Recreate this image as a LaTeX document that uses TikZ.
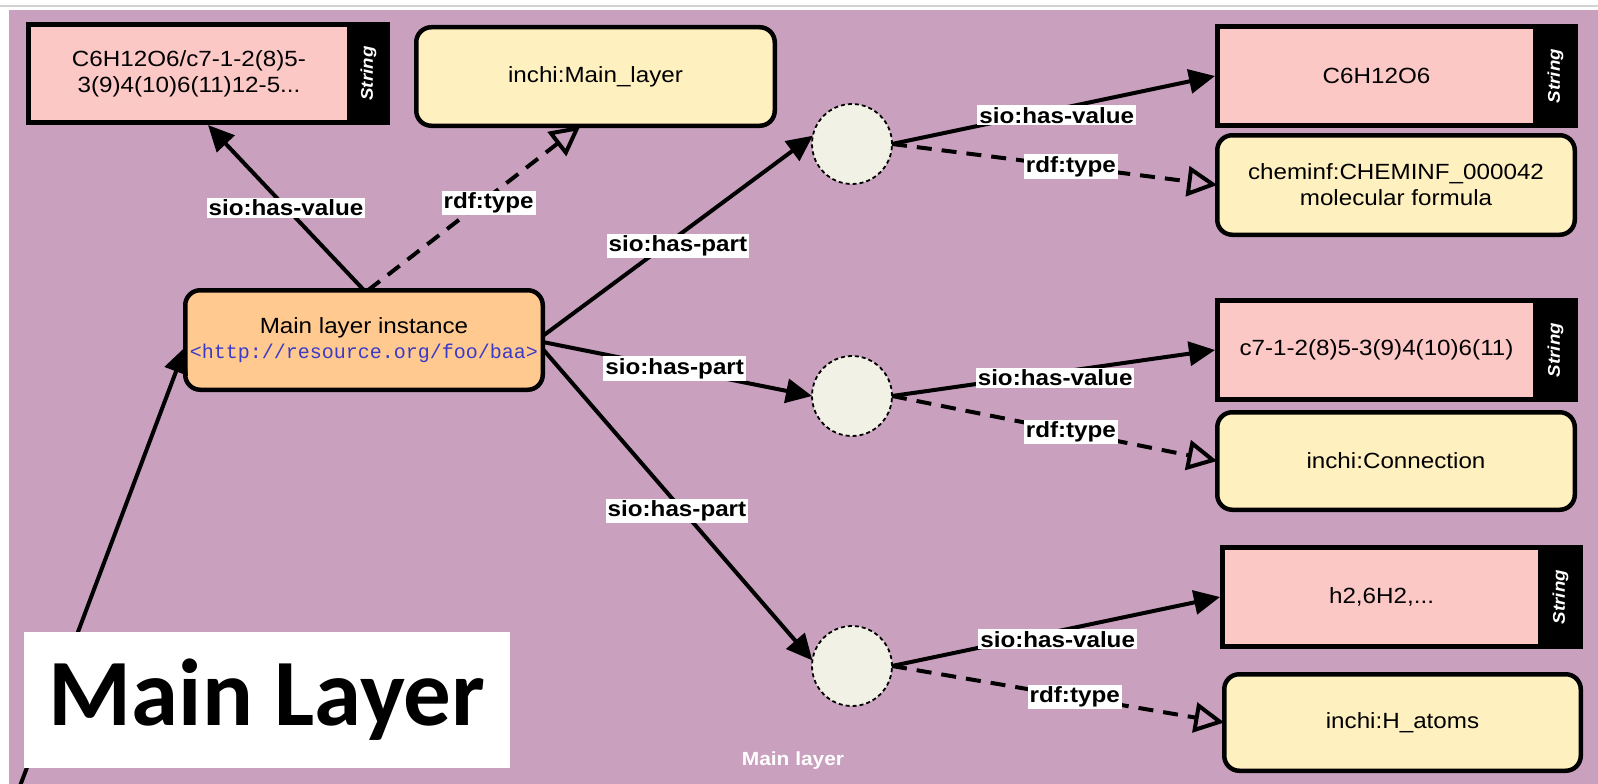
\documentclass[tikz,border=0pt]{standalone}
\usepackage{fontspec}
\setmainfont{Liberation Sans}[FakeStretch=1.1]
\newfontfamily\urlfont{Liberation Mono}
\newfontfamily\bigfont{Carlito}
\usetikzlibrary{arrows.meta,calc}
\definecolor{bgpurple}{HTML}{C9A1BF}
\definecolor{strpink}{HTML}{FCC8C6}
\definecolor{typecream}{HTML}{FFF0C0}
\definecolor{instorange}{HTML}{FFC98F}
\definecolor{blankfill}{HTML}{F2F1E6}
\definecolor{urlblue}{HTML}{3A3AC8}
\definecolor{topline}{HTML}{D2D2D2}
\begin{document}
\begin{tikzpicture}[x=1pt,y=-1pt,
  txt/.style={font=\fontsize{22}{26}\selectfont, align=center, text=black},
  typebox/.style={txt, draw=black, line width=4.5pt, rounded corners=15pt, fill=typecream, inner sep=0pt, outer sep=0pt},
  instbox/.style={typebox, fill=instorange},
  strframe/.style={fill=black, inner sep=0pt, outer sep=0pt},
  strbody/.style={txt, fill=strpink, inner sep=0pt, outer sep=0pt},
  strtag/.style={text=white, rotate=90, inner sep=0pt, font=\bfseries\itshape\fontsize{17}{17}\selectfont},
  blank/.style={circle, minimum size=80pt, inner sep=0pt, outer sep=0pt, fill=blankfill, draw=black, line width=1.8pt, dash pattern=on 4pt off 3pt},
  hasarrow/.style={line width=4pt, -{Triangle[length=26pt,width=24pt]}},
  typearrow/.style={line width=4pt, dash pattern=on 15pt off 10pt, -{Triangle[open,length=30pt,width=30pt,line width=4pt]}},
  lab/.style={fill=white, inner sep=2pt, text=black, font=\bfseries\fontsize{22}{22}\selectfont},
  bigbox/.style={fill=white, inner sep=0pt, minimum width=486pt, minimum height=136pt, font=\bigfont\bfseries\fontsize{95}{95}\selectfont},
  caption/.style={text=white, font=\bfseries\fontsize{19}{19}\selectfont}
]
\useasboundingbox (0,0) rectangle (1598,784);
\fill[white] (0,0) rectangle (1598,784);
\draw[topline, line width=2pt] (0,6) -- (1598,6);
\fill[bgpurple] (9,10) rectangle (1598,784);

% string boxes
\node[strframe, minimum width=364pt, minimum height=103pt] (s1) at (208,73.5) {};
\node[strbody, minimum width=316pt, minimum height=93pt] (s1t) at (189,73.5) {C6H12O6/c7-1-2(8)5-\\3(9)4(10)6(11)12-5...};
\node[strtag] (s1g) at (368.5,73.5) {String};

\node[strframe, minimum width=363pt, minimum height=104pt] (s2) at (1396.5,76) {};
\node[strbody, minimum width=313pt, minimum height=94pt] (s2t) at (1376.5,76) {C6H12O6};
\node[strtag] (s2g) at (1555.5,76) {String};

\node[strframe, minimum width=363pt, minimum height=104pt] (s3) at (1396.5,350) {};
\node[strbody, minimum width=313pt, minimum height=94pt] (s3t) at (1376.5,350) {c7-1-2(8)5-3(9)4(10)6(11)};
\node[strtag] (s3g) at (1555.5,350) {String};

\node[strframe, minimum width=363pt, minimum height=104pt] (s4) at (1401.5,597) {};
\node[strbody, minimum width=313pt, minimum height=94pt] (s4t) at (1381.5,597) {h2,6H2,...};
\node[strtag] (s4g) at (1560.5,597) {String};

% type boxes
\node[typebox, minimum width=358.5pt, minimum height=98.5pt] (tm) at (595.5,76.5) {inchi:Main\_layer};
\node[typebox, minimum width=357.5pt, minimum height=99.5pt] (cm) at (1396,185) {cheminf:CHEMINF\_000042\\molecular formula};
\node[typebox, minimum width=357.5pt, minimum height=97.5pt] (cn) at (1396,461) {inchi:Connection};
\node[typebox, minimum width=356.5pt, minimum height=96.5pt] (ha) at (1402.5,722.5) {inchi:H\_atoms};

% instance
\node[instbox, minimum width=357.5pt, minimum height=99.5pt] (inst) at (364,340)
  {Main layer instance\\[-1pt]{\urlfont\fontsize{20}{24}\selectfont\color{urlblue}<http://resource.org/foo/baa>}};

% blank nodes
\node[blank] (c1) at (852,144) {};
\node[blank] (c2) at (852,396) {};
\node[blank] (c3) at (852,666) {};

% edges from instance
\draw[hasarrow] (inst.north) -- node[lab,pos=0.5]{sio:has-value} (s1.south);
\draw[typearrow] ($(inst.north)+(4,0)$) -- node[lab,pos=0.53,xshift=8pt]{rdf:type} ($(tm.south)+(-15,0)$);
\draw[hasarrow] ($(inst.east)+(0,-4)$) -- node[lab,pos=0.5,yshift=-10pt]{sio:has-part} (c1.168);
\draw[hasarrow] ($(inst.east)+(0,2)$) -- node[lab,pos=0.49]{sio:has-part} (c2.west);
\draw[hasarrow] ($(inst.east)+(0,9)$) -- node[lab,pos=0.52,xshift=-6pt]{sio:has-part} (c3.172);

% edges from blank nodes
\draw[hasarrow] (c1.east) -- node[lab,pos=0.51,yshift=-6pt]{sio:has-value} (s2.west);
\draw[typearrow] (c1.east) -- node[lab,pos=0.55]{rdf:type} (cm.west);
\draw[hasarrow] (c2.east) -- node[lab,pos=0.505,yshift=-5pt]{sio:has-value} (s3.west);
\draw[typearrow] (c2.east) -- node[lab,pos=0.55]{rdf:type} (cn.west);
\draw[hasarrow] (c3.east) -- node[lab,pos=0.505,yshift=-8pt]{sio:has-value} (s4.west);
\draw[typearrow] (c3.east) -- node[lab,pos=0.55]{rdf:type} (ha.west);

% incoming edge from outside
\coordinate (lb) at (20,786);
\draw[hasarrow] (lb) -- ($(inst.west)+(0,7)$);

% overlay title
\node[bigbox] (title) at (267,700) {Main Layer};
\node[caption] (cap) at (793,761) {Main layer};
\end{tikzpicture}
\end{document}
